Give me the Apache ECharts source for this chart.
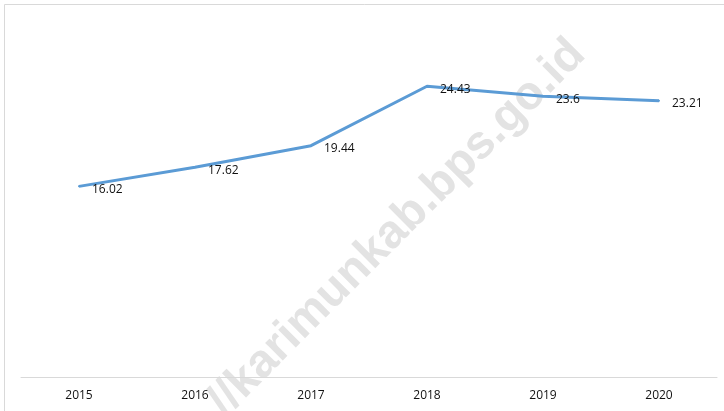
<!DOCTYPE html>
<html>
<head>
<meta charset="utf-8">
<script src="https://cdn.jsdelivr.net/npm/echarts@6/dist/echarts.min.js"></script>
<style>
  html, body { margin: 0; padding: 0; background: #fff; }
  #main { width: 724px; height: 411px; }
</style>
</head>
<body>
<div id="main"></div>
<script>
var years = ['2015', '2016', '2017', '2018', '2019', '2020'];
var values = [16.02, 17.62, 19.44, 24.43, 23.6, 23.21];

var myChart = echarts.init(document.getElementById('main'));
myChart.setOption({
    animation: false,
    grid: { left: 21, right: 7, top: 20, bottom: 34 },
    graphic: [
        {
            type: 'rect',
            z: -10,
            shape: { x: 4.5, y: 4.5, width: 740, height: 430 },
            style: { fill: 'none', stroke: '#d9d9d9', lineWidth: 1 }
        },
        {
            type: 'text',
            z: -5,
            x: 397,
            y: 228,
            rotation: Math.PI / 4,
            style: {
                text: '//karimunkab.bps.go.id',
                font: 'bold 47px "Liberation Sans", Arial, sans-serif',
                fill: '#e3e3e3',
                align: 'center',
                verticalAlign: 'middle'
            }
        }
    ],
    xAxis: {
        type: 'category',
        data: years,
        boundaryGap: true,
        offset: 2,
        axisLine: { lineStyle: { color: '#d9d9d9', width: 1 } },
        axisTick: { show: false },
        axisLabel: {
            color: '#111',
            fontFamily: 'Open Sans',
            fontSize: 12,
            margin: 11
        }
    },
    yAxis: {
        type: 'value',
        min: 0,
        max: 30,
        show: false,
        splitLine: { show: false }
    },
    series: [{
        type: 'line',
        data: values,
        symbol: 'circle',
        symbolSize: 2,
        showSymbol: true,
        itemStyle: { color: '#5b9bd5', borderWidth: 0 },
        lineStyle: { color: '#5b9bd5', width: 3 },
        label: {
            show: true,
            position: 'right',
            distance: 12,
            offset: [0, 3],
            color: '#111',
            fontFamily: 'Open Sans',
            fontSize: 12
        }
    }]
});
</script>
</body>
</html>
